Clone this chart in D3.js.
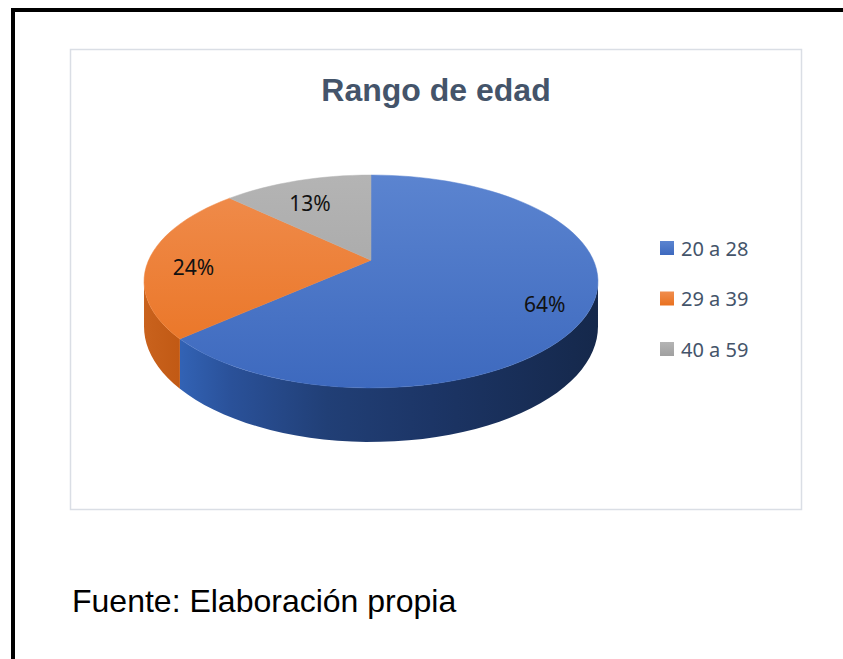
<!DOCTYPE html>
<html>
<head>
<meta charset="utf-8">
<script src="https://cdn.jsdelivr.net/npm/d3@7"></script>
<style>
html,body{margin:0;padding:0;background:#fff;}
svg{display:block;}
</style>
</head>
<body>
<script>
// ---- data ----
const categories = ["20 a 28", "29 a 39", "40 a 59"];
const values = [64, 24, 13];
const pctLabels = ["64%", "24%", "13%"];
const titleText = "Rango de edad";
const sourceText = "Fuente: Elaboración propia";

// ---- layout ----
const W = 843, H = 659;
const svg = d3.select("body").append("svg").attr("width", W).attr("height", H);
const defs = svg.append("defs");

// outer black frame (top and left)
svg.append("rect").attr("x", 11).attr("y", 8).attr("width", W - 11).attr("height", 4).attr("fill", "#000");
svg.append("rect").attr("x", 11).attr("y", 8).attr("width", 4).attr("height", H - 8).attr("fill", "#000");

// chart box
svg.append("rect").attr("x", 70.5).attr("y", 49.5).attr("width", 731).attr("height", 460)
  .attr("fill", "#fff").attr("stroke", "#dadee5").attr("stroke-width", 1.5);

svg.append("text").attr("x", 436).attr("y", 101).attr("text-anchor", "middle")
  .attr("font-family", "'Liberation Sans', Arial, sans-serif").attr("font-weight", "bold")
  .attr("font-size", 32).attr("fill", "#44546A").text(titleText);

svg.append("text").attr("x", 72).attr("y", 612)
  .attr("font-family", "'Liberation Sans', Arial, sans-serif")
  .attr("font-size", 32).attr("fill", "#000").text(sourceText);

// ---- 3D pie with perspective ----
const cx = 371, k = 0.2, A = 222.4, B = 102.2, cy0 = 260.2, D = 43.2;
function proj(r, th, h) {
  const X = r * Math.sin(th), Y = r * Math.cos(th);
  const w = 1 + k * Y;
  return [cx + A * X / w, cy0 - B * Y / w + h * D / w];
}
const pie = d3.pie().sort(null).value(d => d).startAngle(0).endAngle(2 * Math.PI);
const arcs = pie(values);

const topCols = [["#5b84d0", "#3d69be"], ["#f08d4e", "#e9711f"], ["#b4b4b4", "#a0a0a0"]];
const sideStops = [
  [["0", "#3262b4"], ["0.12", "#2a5199"], ["0.35", "#213f76"], ["0.6", "#1c3566"], ["1", "#15284b"]],
  [["0", "#c9621d"], ["1", "#c05813"]],
  [["0", "#8a8a8a"], ["1", "#707070"]]
];
topCols.forEach((c, i) => {
  const g = defs.append("linearGradient").attr("id", "top" + i)
    .attr("gradientUnits", "userSpaceOnUse").attr("x1", 0).attr("y1", 175).attr("x2", 0).attr("y2", 390);
  g.append("stop").attr("offset", "0").attr("stop-color", c[0]);
  g.append("stop").attr("offset", "1").attr("stop-color", c[1]);
  const s = defs.append("linearGradient").attr("id", "side" + i)
    .attr("gradientUnits", "userSpaceOnUse").attr("x1", i === 0 ? 181 : 144).attr("y1", 0)
    .attr("x2", i === 0 ? 598 : 185).attr("y2", 0);
  sideStops[i].forEach(st => s.append("stop").attr("offset", st[0]).attr("stop-color", st[1]));
  const l = defs.append("linearGradient").attr("id", "leg" + i).attr("x1", 0).attr("y1", 0).attr("x2", 0).attr("y2", 1);
  l.append("stop").attr("offset", "0").attr("stop-color", c[0]);
  l.append("stop").attr("offset", "1").attr("stop-color", c[1]);
});

const visLo = Math.acos(-k), visHi = 2 * Math.PI - Math.acos(-k);
const N = 120;
function arcPts(a0, a1, h) {
  const pts = [];
  const n = Math.max(2, Math.ceil(N * (a1 - a0) / (2 * Math.PI)));
  for (let j = 0; j <= n; j++) pts.push(proj(1, a0 + (a1 - a0) * j / n, h));
  return pts;
}
const line = d3.line();

// sides
arcs.forEach((a, i) => {
  const a0 = Math.max(a.startAngle, visLo), a1 = Math.min(a.endAngle, visHi);
  if (a1 <= a0) return;
  const topP = arcPts(a0, a1, 0);
  const botP = arcPts(a0, a1, 1).reverse();
  svg.append("path").attr("d", line(topP.concat(botP)) + "Z").attr("fill", `url(#side${i})`);
});
// tops
arcs.forEach((a, i) => {
  const pts = [proj(0, 0, 0)].concat(arcPts(a.startAngle, a.endAngle, 0));
  svg.append("path").attr("d", line(pts) + "Z").attr("fill", `url(#top${i})`)
    .attr("stroke", `url(#top${i})`).attr("stroke-width", 0.5);
});
// labels
arcs.forEach((a, i) => {
  const mid = (a.startAngle + a.endAngle) / 2;
  const p = proj(0.8, mid, 0);
  svg.append("text").attr("x", p[0]).attr("y", p[1] + 8).attr("text-anchor", "middle")
    .attr("dominant-baseline", "central")
    .attr("font-family", "'Noto Sans', 'Open Sans', sans-serif").attr("font-size", 21)
    .attr("fill", "#111").text(pctLabels[i]);
});

// legend
const ly = d3.scalePoint().domain(categories).range([248, 349]);
categories.forEach((c, i) => {
  svg.append("rect").attr("x", 660).attr("y", ly(c) - 7).attr("width", 14).attr("height", 14)
    .attr("fill", `url(#leg${i})`);
  svg.append("text").attr("x", 681).attr("y", ly(c)).attr("dominant-baseline", "central")
    .attr("font-family", "'Noto Sans', 'Open Sans', sans-serif").attr("font-size", 20)
    .attr("fill", "#44546A").text(c);
});
</script>
</body>
</html>
